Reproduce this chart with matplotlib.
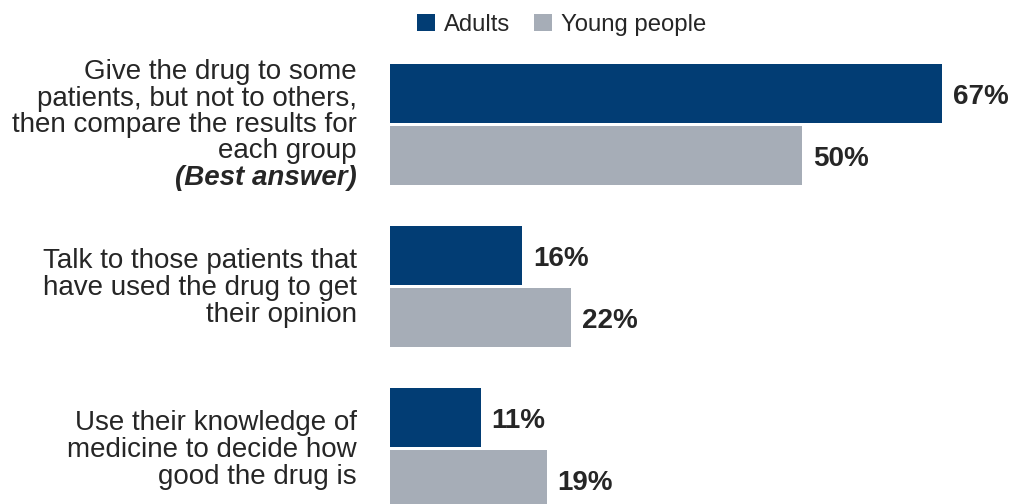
import matplotlib
matplotlib.use("Agg")
import matplotlib.pyplot as plt
from matplotlib.patches import Patch

categories = [
    "Give the drug to some\npatients, but not to others,\nthen compare the results for\neach group",
    "Talk to those patients that\nhave used the drug to get\ntheir opinion",
    "Use their knowledge of\nmedicine to decide how\ngood the drug is",
]
extra_bold = ["(Best answer)", None, None]
adults = [67, 16, 11]
young = [50, 22, 19]
series_names = ["Adults", "Young people"]

navy = "#023d74"
grey = "#a6adb7"
txt = "#262626"

W, H = 1011, 504
fig = plt.figure(figsize=(W / 100, H / 100), dpi=100)
ax_left = 390 / W
ax = fig.add_axes([ax_left, 0, 1 - ax_left, 1])
px_per_unit = 8.24
ax.set_xlim(0, (W - 390) / px_per_unit)
ax.set_ylim(H, 0)  # y in pixel-like units, inverted
ax.axis("off")

group_step = 162
bar_h = 59
first_adult_center = 93.5
gap = 62

for i, cat in enumerate(categories):
    ya = first_adult_center + i * group_step
    yy = ya + gap
    ax.barh(ya, adults[i], height=bar_h, color=navy)
    ax.barh(yy, young[i], height=bar_h, color=grey)
    ax.text(adults[i] + 11 / px_per_unit, ya + 3, f"{adults[i]}%", va="center", ha="left",
            fontsize=20, fontweight="bold", color=txt, family="Liberation Sans")
    ax.text(young[i] + 11 / px_per_unit, yy + 4, f"{young[i]}%", va="center", ha="left",
            fontsize=20, fontweight="bold", color=txt, family="Liberation Sans")

# category labels
label_x = 357 / W
label_fs = 20
line_px = 26.5
centers = [125, 288, 450]
for i, cat in enumerate(categories):
    lines = cat.split("\n")
    n = len(lines) + (1 if extra_bold[i] else 0)
    top = centers[i] - (n - 1) * line_px / 2
    for j, ln in enumerate(lines):
        y = top + j * line_px
        fig.text(label_x, 1 - y / H, ln, ha="right", va="center", fontsize=label_fs,
                 color=txt, family="Liberation Sans")
    if extra_bold[i]:
        y = top + len(lines) * line_px
        fig.text(label_x, 1 - y / H, extra_bold[i], ha="right", va="center", fontsize=label_fs,
                 color=txt, family="Liberation Sans", fontweight="bold", style="italic")

handles = [Patch(facecolor=navy, edgecolor="none"), Patch(facecolor=grey, edgecolor="none")]
fig.legend(handles, series_names, loc="center", bbox_to_anchor=(562 / W, 1 - 25 / H),
           ncol=2, frameon=False, handlelength=0.75, handleheight=0.75,
           handletextpad=0.38, columnspacing=1.0, prop={"family": "Liberation Sans", "size": 17.2},
           labelcolor=txt, borderaxespad=0, borderpad=0)

fig.savefig("out.png", dpi=100, facecolor="white")
